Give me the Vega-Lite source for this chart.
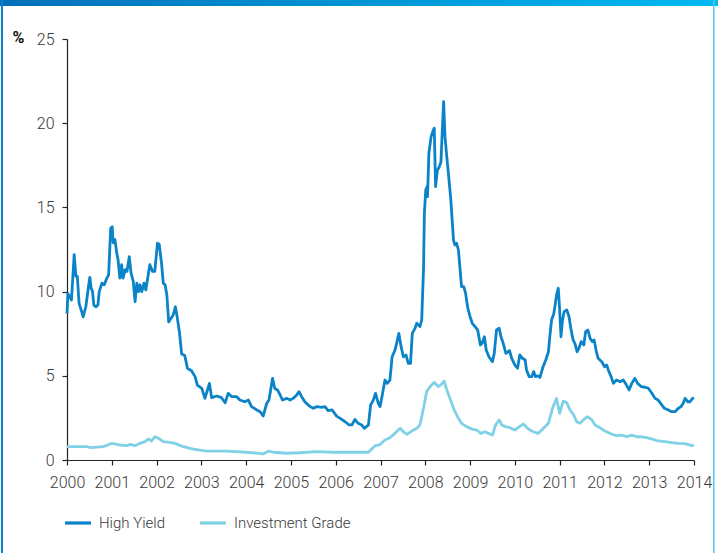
{
  "$schema": "https://vega.github.io/schema/vega-lite/v6.json",
  "width": 627,
  "height": 421,
  "autosize": "none",
  "padding": {"left": 67, "top": 39, "right": 24, "bottom": 93},
  "background": "white",
  "config": {
    "font": "Roboto",
    "view": {"stroke": null},
    "axis": {
      "grid": false,
      "domainColor": "#222222",
      "domainWidth": 1.2,
      "tickColor": "#222222",
      "tickWidth": 1.2,
      "tickSize": 5,
      "labelFont": "Roboto",
      "labelFontSize": 16,
      "labelFontWeight": 300,
      "labelColor": "#383838"
    },
    "legend": {
      "labelFont": "Roboto",
      "labelFontSize": 15,
      "labelFontWeight": 300,
      "labelColor": "#383838"
    }
  },
  "datasets": {
    "highYield": [
      {"year": 2000.00, "spread": 8.7}, {"year": 2000.02, "spread": 9.9}, {"year": 2000.06, "spread": 9.7},
      {"year": 2000.10, "spread": 9.5}, {"year": 2000.16, "spread": 12.2}, {"year": 2000.20, "spread": 10.9},
      {"year": 2000.23, "spread": 10.9}, {"year": 2000.27, "spread": 9.3}, {"year": 2000.33, "spread": 8.8},
      {"year": 2000.36, "spread": 8.5}, {"year": 2000.42, "spread": 9.1}, {"year": 2000.48, "spread": 10.3},
      {"year": 2000.51, "spread": 10.85}, {"year": 2000.54, "spread": 10.2}, {"year": 2000.57, "spread": 10.0},
      {"year": 2000.60, "spread": 9.2}, {"year": 2000.65, "spread": 9.1}, {"year": 2000.69, "spread": 9.2},
      {"year": 2000.72, "spread": 10.0}, {"year": 2000.78, "spread": 10.5}, {"year": 2000.83, "spread": 10.4},
      {"year": 2000.89, "spread": 10.8}, {"year": 2000.93, "spread": 11.0}, {"year": 2000.975, "spread": 13.76},
      {"year": 2001.01, "spread": 13.85}, {"year": 2001.03, "spread": 12.9}, {"year": 2001.07, "spread": 13.1},
      {"year": 2001.11, "spread": 12.3}, {"year": 2001.14, "spread": 11.9}, {"year": 2001.18, "spread": 10.8},
      {"year": 2001.22, "spread": 11.6}, {"year": 2001.25, "spread": 10.8}, {"year": 2001.30, "spread": 11.3},
      {"year": 2001.34, "spread": 11.2}, {"year": 2001.39, "spread": 12.07}, {"year": 2001.43, "spread": 11.1},
      {"year": 2001.48, "spread": 10.6}, {"year": 2001.52, "spread": 9.4}, {"year": 2001.56, "spread": 10.5},
      {"year": 2001.60, "spread": 10.0}, {"year": 2001.63, "spread": 10.4}, {"year": 2001.67, "spread": 10.0},
      {"year": 2001.72, "spread": 10.5}, {"year": 2001.76, "spread": 10.1}, {"year": 2001.82, "spread": 11.1},
      {"year": 2001.85, "spread": 11.6}, {"year": 2001.91, "spread": 11.2}, {"year": 2001.96, "spread": 11.2},
      {"year": 2002.02, "spread": 12.87}, {"year": 2002.06, "spread": 12.8}, {"year": 2002.11, "spread": 11.7},
      {"year": 2002.15, "spread": 10.5}, {"year": 2002.19, "spread": 10.4}, {"year": 2002.23, "spread": 9.8},
      {"year": 2002.27, "spread": 8.2}, {"year": 2002.32, "spread": 8.4}, {"year": 2002.37, "spread": 8.6},
      {"year": 2002.42, "spread": 9.1}, {"year": 2002.46, "spread": 8.5}, {"year": 2002.51, "spread": 7.6},
      {"year": 2002.56, "spread": 6.3}, {"year": 2002.63, "spread": 6.2}, {"year": 2002.69, "spread": 5.44},
      {"year": 2002.78, "spread": 5.3}, {"year": 2002.86, "spread": 4.95}, {"year": 2002.91, "spread": 4.45},
      {"year": 2003.01, "spread": 4.25}, {"year": 2003.08, "spread": 3.66}, {"year": 2003.18, "spread": 4.55},
      {"year": 2003.23, "spread": 3.7}, {"year": 2003.34, "spread": 3.8}, {"year": 2003.45, "spread": 3.7},
      {"year": 2003.53, "spread": 3.4}, {"year": 2003.60, "spread": 3.96}, {"year": 2003.68, "spread": 3.76},
      {"year": 2003.79, "spread": 3.76}, {"year": 2003.86, "spread": 3.56}, {"year": 2003.97, "spread": 3.46},
      {"year": 2004.05, "spread": 3.56}, {"year": 2004.12, "spread": 3.17}, {"year": 2004.24, "spread": 2.97},
      {"year": 2004.31, "spread": 2.87}, {"year": 2004.38, "spread": 2.61}, {"year": 2004.46, "spread": 3.37},
      {"year": 2004.51, "spread": 3.56}, {"year": 2004.59, "spread": 4.85}, {"year": 2004.64, "spread": 4.25},
      {"year": 2004.70, "spread": 4.16}, {"year": 2004.76, "spread": 3.86}, {"year": 2004.81, "spread": 3.56},
      {"year": 2004.91, "spread": 3.66}, {"year": 2004.98, "spread": 3.56}, {"year": 2005.05, "spread": 3.66},
      {"year": 2005.13, "spread": 3.86}, {"year": 2005.18, "spread": 4.06}, {"year": 2005.24, "spread": 3.76},
      {"year": 2005.31, "spread": 3.46}, {"year": 2005.43, "spread": 3.17}, {"year": 2005.50, "spread": 3.07},
      {"year": 2005.58, "spread": 3.17}, {"year": 2005.69, "spread": 3.12}, {"year": 2005.76, "spread": 3.17},
      {"year": 2005.83, "spread": 2.93}, {"year": 2005.92, "spread": 2.97}, {"year": 2006.02, "spread": 2.61},
      {"year": 2006.10, "spread": 2.47}, {"year": 2006.21, "spread": 2.27}, {"year": 2006.30, "spread": 2.08},
      {"year": 2006.36, "spread": 2.08}, {"year": 2006.43, "spread": 2.41}, {"year": 2006.50, "spread": 2.18},
      {"year": 2006.58, "spread": 2.08}, {"year": 2006.64, "spread": 1.88}, {"year": 2006.73, "spread": 2.08},
      {"year": 2006.78, "spread": 3.27}, {"year": 2006.84, "spread": 3.56}, {"year": 2006.89, "spread": 3.96},
      {"year": 2006.95, "spread": 3.37}, {"year": 2006.99, "spread": 3.17}, {"year": 2007.04, "spread": 3.86},
      {"year": 2007.10, "spread": 4.75}, {"year": 2007.15, "spread": 4.55}, {"year": 2007.21, "spread": 4.75},
      {"year": 2007.26, "spread": 6.13}, {"year": 2007.32, "spread": 6.5}, {"year": 2007.36, "spread": 6.93},
      {"year": 2007.41, "spread": 7.52}, {"year": 2007.46, "spread": 6.73}, {"year": 2007.51, "spread": 6.13},
      {"year": 2007.57, "spread": 6.23}, {"year": 2007.62, "spread": 5.74}, {"year": 2007.67, "spread": 5.74},
      {"year": 2007.71, "spread": 7.52}, {"year": 2007.77, "spread": 7.82}, {"year": 2007.81, "spread": 8.12},
      {"year": 2007.88, "spread": 7.92}, {"year": 2007.92, "spread": 8.31}, {"year": 2007.96, "spread": 11.28},
      {"year": 2007.98, "spread": 14.65}, {"year": 2008.01, "spread": 16.03}, {"year": 2008.04, "spread": 16.23},
      {"year": 2008.05, "spread": 15.64}, {"year": 2008.08, "spread": 18.21}, {"year": 2008.13, "spread": 19.2},
      {"year": 2008.18, "spread": 19.6}, {"year": 2008.20, "spread": 19.7}, {"year": 2008.23, "spread": 16.23},
      {"year": 2008.27, "spread": 17.2}, {"year": 2008.31, "spread": 17.4}, {"year": 2008.35, "spread": 17.7},
      {"year": 2008.38, "spread": 19.6}, {"year": 2008.41, "spread": 21.28}, {"year": 2008.44, "spread": 19.2},
      {"year": 2008.48, "spread": 18.01}, {"year": 2008.51, "spread": 17.2}, {"year": 2008.57, "spread": 15.44},
      {"year": 2008.63, "spread": 13.06}, {"year": 2008.66, "spread": 12.77}, {"year": 2008.70, "spread": 12.87},
      {"year": 2008.74, "spread": 12.47}, {"year": 2008.81, "spread": 10.3}, {"year": 2008.86, "spread": 10.3},
      {"year": 2008.90, "spread": 9.9}, {"year": 2008.95, "spread": 9.0}, {"year": 2009.00, "spread": 8.51},
      {"year": 2009.05, "spread": 8.12}, {"year": 2009.11, "spread": 7.92}, {"year": 2009.17, "spread": 7.72},
      {"year": 2009.23, "spread": 6.83}, {"year": 2009.27, "spread": 6.93}, {"year": 2009.32, "spread": 7.32},
      {"year": 2009.36, "spread": 6.53}, {"year": 2009.42, "spread": 6.13}, {"year": 2009.50, "spread": 5.84},
      {"year": 2009.54, "spread": 6.33}, {"year": 2009.59, "spread": 7.72}, {"year": 2009.65, "spread": 7.82},
      {"year": 2009.69, "spread": 7.32}, {"year": 2009.74, "spread": 6.93}, {"year": 2009.80, "spread": 6.33},
      {"year": 2009.88, "spread": 6.5}, {"year": 2009.93, "spread": 6.04}, {"year": 2010.00, "spread": 5.64},
      {"year": 2010.06, "spread": 5.45}, {"year": 2010.11, "spread": 6.24}, {"year": 2010.17, "spread": 6.04},
      {"year": 2010.23, "spread": 5.94}, {"year": 2010.26, "spread": 5.34}, {"year": 2010.32, "spread": 4.95},
      {"year": 2010.38, "spread": 4.95}, {"year": 2010.42, "spread": 5.25}, {"year": 2010.46, "spread": 4.95},
      {"year": 2010.51, "spread": 5.0}, {"year": 2010.56, "spread": 4.9}, {"year": 2010.63, "spread": 5.54},
      {"year": 2010.69, "spread": 5.94}, {"year": 2010.75, "spread": 6.43}, {"year": 2010.78, "spread": 7.32},
      {"year": 2010.82, "spread": 8.31}, {"year": 2010.87, "spread": 8.71}, {"year": 2010.90, "spread": 9.2},
      {"year": 2010.93, "spread": 9.8}, {"year": 2010.97, "spread": 10.2}, {"year": 2011.00, "spread": 8.91},
      {"year": 2011.03, "spread": 7.32}, {"year": 2011.06, "spread": 8.22}, {"year": 2011.10, "spread": 8.81},
      {"year": 2011.16, "spread": 8.91}, {"year": 2011.21, "spread": 8.51}, {"year": 2011.25, "spread": 7.82},
      {"year": 2011.30, "spread": 7.13}, {"year": 2011.34, "spread": 6.93}, {"year": 2011.39, "spread": 6.43},
      {"year": 2011.43, "spread": 6.63}, {"year": 2011.48, "spread": 7.03}, {"year": 2011.54, "spread": 6.83},
      {"year": 2011.58, "spread": 7.62}, {"year": 2011.63, "spread": 7.72}, {"year": 2011.68, "spread": 7.22},
      {"year": 2011.73, "spread": 7.03}, {"year": 2011.77, "spread": 7.13}, {"year": 2011.82, "spread": 6.43},
      {"year": 2011.86, "spread": 6.04}, {"year": 2011.94, "spread": 5.84}, {"year": 2012.00, "spread": 5.54},
      {"year": 2012.05, "spread": 5.64}, {"year": 2012.10, "spread": 5.25}, {"year": 2012.15, "spread": 4.95},
      {"year": 2012.20, "spread": 4.55}, {"year": 2012.27, "spread": 4.75}, {"year": 2012.35, "spread": 4.65},
      {"year": 2012.42, "spread": 4.75}, {"year": 2012.47, "spread": 4.55}, {"year": 2012.55, "spread": 4.16},
      {"year": 2012.61, "spread": 4.55}, {"year": 2012.68, "spread": 4.85}, {"year": 2012.74, "spread": 4.55},
      {"year": 2012.82, "spread": 4.36}, {"year": 2012.91, "spread": 4.32}, {"year": 2012.98, "spread": 4.26},
      {"year": 2013.06, "spread": 3.96}, {"year": 2013.13, "spread": 3.66}, {"year": 2013.20, "spread": 3.56},
      {"year": 2013.28, "spread": 3.27}, {"year": 2013.34, "spread": 3.07}, {"year": 2013.43, "spread": 2.97},
      {"year": 2013.50, "spread": 2.87}, {"year": 2013.58, "spread": 2.87}, {"year": 2013.65, "spread": 3.07},
      {"year": 2013.71, "spread": 3.17}, {"year": 2013.76, "spread": 3.37}, {"year": 2013.80, "spread": 3.66},
      {"year": 2013.86, "spread": 3.46}, {"year": 2013.91, "spread": 3.46}, {"year": 2013.97, "spread": 3.66},
      {"year": 2014.00, "spread": 3.7}
    ],
    "investmentGrade": [
      {"year": 2000.00, "spread": 0.79}, {"year": 2000.22, "spread": 0.79}, {"year": 2000.44, "spread": 0.79},
      {"year": 2000.52, "spread": 0.74}, {"year": 2000.81, "spread": 0.79}, {"year": 2001.00, "spread": 0.99},
      {"year": 2001.20, "spread": 0.89}, {"year": 2001.33, "spread": 0.85}, {"year": 2001.41, "spread": 0.93},
      {"year": 2001.52, "spread": 0.85}, {"year": 2001.63, "spread": 0.99}, {"year": 2001.74, "spread": 1.09},
      {"year": 2001.82, "spread": 1.25}, {"year": 2001.89, "spread": 1.13}, {"year": 2001.96, "spread": 1.38},
      {"year": 2002.04, "spread": 1.29}, {"year": 2002.15, "spread": 1.09}, {"year": 2002.30, "spread": 1.05},
      {"year": 2002.41, "spread": 0.99}, {"year": 2002.60, "spread": 0.79}, {"year": 2002.82, "spread": 0.65},
      {"year": 2003.12, "spread": 0.53}, {"year": 2003.57, "spread": 0.53}, {"year": 2004.01, "spread": 0.46},
      {"year": 2004.27, "spread": 0.40}, {"year": 2004.38, "spread": 0.36}, {"year": 2004.50, "spread": 0.53},
      {"year": 2004.61, "spread": 0.46}, {"year": 2004.90, "spread": 0.40}, {"year": 2005.20, "spread": 0.43},
      {"year": 2005.57, "spread": 0.50}, {"year": 2005.95, "spread": 0.46}, {"year": 2006.32, "spread": 0.46},
      {"year": 2006.73, "spread": 0.46}, {"year": 2006.88, "spread": 0.85}, {"year": 2006.98, "spread": 0.9},
      {"year": 2007.10, "spread": 1.19}, {"year": 2007.21, "spread": 1.32}, {"year": 2007.32, "spread": 1.58},
      {"year": 2007.44, "spread": 1.88}, {"year": 2007.51, "spread": 1.68}, {"year": 2007.59, "spread": 1.52},
      {"year": 2007.70, "spread": 1.72}, {"year": 2007.81, "spread": 1.88}, {"year": 2007.88, "spread": 2.08},
      {"year": 2007.96, "spread": 3.07}, {"year": 2008.03, "spread": 4.06}, {"year": 2008.11, "spread": 4.36},
      {"year": 2008.20, "spread": 4.61}, {"year": 2008.29, "spread": 4.36}, {"year": 2008.35, "spread": 4.46},
      {"year": 2008.42, "spread": 4.69}, {"year": 2008.48, "spread": 4.16}, {"year": 2008.55, "spread": 3.66},
      {"year": 2008.63, "spread": 3.07}, {"year": 2008.72, "spread": 2.57}, {"year": 2008.81, "spread": 2.18},
      {"year": 2008.92, "spread": 1.98}, {"year": 2009.04, "spread": 1.84}, {"year": 2009.15, "spread": 1.78},
      {"year": 2009.24, "spread": 1.58}, {"year": 2009.33, "spread": 1.68}, {"year": 2009.41, "spread": 1.58},
      {"year": 2009.50, "spread": 1.48}, {"year": 2009.57, "spread": 2.08}, {"year": 2009.65, "spread": 2.38},
      {"year": 2009.71, "spread": 2.08}, {"year": 2009.79, "spread": 1.98}, {"year": 2009.89, "spread": 1.92},
      {"year": 2010.00, "spread": 1.78}, {"year": 2010.11, "spread": 2.0}, {"year": 2010.19, "spread": 2.14},
      {"year": 2010.30, "spread": 1.84}, {"year": 2010.41, "spread": 1.68}, {"year": 2010.52, "spread": 1.58},
      {"year": 2010.60, "spread": 1.78}, {"year": 2010.75, "spread": 2.18}, {"year": 2010.84, "spread": 3.07},
      {"year": 2010.93, "spread": 3.66}, {"year": 2011.00, "spread": 2.77}, {"year": 2011.08, "spread": 3.5},
      {"year": 2011.16, "spread": 3.4}, {"year": 2011.23, "spread": 2.97}, {"year": 2011.31, "spread": 2.7},
      {"year": 2011.38, "spread": 2.27}, {"year": 2011.45, "spread": 2.18}, {"year": 2011.53, "spread": 2.38},
      {"year": 2011.62, "spread": 2.57}, {"year": 2011.72, "spread": 2.38}, {"year": 2011.79, "spread": 2.08},
      {"year": 2011.90, "spread": 1.92}, {"year": 2012.01, "spread": 1.72}, {"year": 2012.16, "spread": 1.54},
      {"year": 2012.27, "spread": 1.45}, {"year": 2012.38, "spread": 1.48}, {"year": 2012.50, "spread": 1.39},
      {"year": 2012.61, "spread": 1.48}, {"year": 2012.72, "spread": 1.38}, {"year": 2012.83, "spread": 1.38},
      {"year": 2012.94, "spread": 1.33}, {"year": 2013.05, "spread": 1.25}, {"year": 2013.20, "spread": 1.13},
      {"year": 2013.35, "spread": 1.09}, {"year": 2013.50, "spread": 1.03}, {"year": 2013.65, "spread": 0.99},
      {"year": 2013.80, "spread": 0.97}, {"year": 2013.95, "spread": 0.85}, {"year": 2014.00, "spread": 0.88}
    ]
  },
  "layer": [
    {
      "data": {"name": "investmentGrade"},
      "mark": {"type": "line", "strokeWidth": 2.8, "strokeJoin": "round"},
      "encoding": {
        "x": {
          "field": "year",
          "type": "quantitative",
          "scale": {"domain": [2000, 2014], "nice": false, "zero": false},
          "axis": {
            "title": null,
            "values": [2000, 2001, 2002, 2003, 2004, 2005, 2006, 2007, 2008, 2009, 2010, 2011, 2012, 2013, 2014],
            "format": "d",
            "labelPadding": 9,
            "labelFlush": false,
            "labelOverlap": false
          }
        },
        "y": {
          "field": "spread",
          "type": "quantitative",
          "scale": {"domain": [0, 25], "nice": false},
          "axis": {
            "title": "%",
            "titleAngle": 0,
            "titleAlign": "left",
            "titleBaseline": "middle",
            "titleX": -55,
            "titleY": -2,
            "titleFont": "Roboto",
            "titleFontSize": 16,
            "titleFontWeight": "bold",
            "titleColor": "#111111",
            "values": [0, 5, 10, 15, 20, 25],
            "labelPadding": 8
          }
        },
        "color": {
          "datum": "Investment Grade",
          "scale": {"domain": ["High Yield", "Investment Grade"], "range": ["#0a83c9", "#7fd1e6"]},
          "legend": {
            "title": null,
            "orient": "none",
            "legendX": -4,
            "legendY": 469,
            "direction": "horizontal",
            "symbolType": "stroke",
            "symbolSize": 676,
            "symbolStrokeWidth": 3.2,
            "labelOffset": 6,
            "columnPadding": 27
          }
        }
      }
    },
    {
      "data": {"name": "highYield"},
      "mark": {"type": "line", "strokeWidth": 2.8, "strokeJoin": "round"},
      "encoding": {
        "x": {"field": "year", "type": "quantitative"},
        "y": {"field": "spread", "type": "quantitative"},
        "color": {"datum": "High Yield"}
      }
    },
    {
      "data": {"values": [{}]},
      "mark": {
        "type": "rect",
        "color": {
          "gradient": "linear",
          "x1": 0, "y1": 0, "x2": 1, "y2": 0,
          "stops": [{"offset": 0, "color": "#006fba"}, {"offset": 1, "color": "#00baf0"}]
        }
      },
      "encoding": {
        "x": {"datum": 1998.45},
        "x2": {"datum": 2014.6},
        "y": {"datum": 27.4},
        "y2": {"datum": 26.96}
      }
    },
    {
      "data": {"values": [{}]},
      "mark": {"type": "rect", "color": "#0b80c8"},
      "encoding": {
        "x": {"datum": 1998.526},
        "x2": {"datum": 1998.571},
        "y": {"datum": 27.4},
        "y2": {"datum": -6}
      }
    },
    {
      "data": {"values": [{}]},
      "mark": {"type": "rect", "color": "#55c6ee"},
      "encoding": {
        "x": {"datum": 2014.424},
        "x2": {"datum": 2014.458},
        "y": {"datum": 27.4},
        "y2": {"datum": -6}
      }
    }
  ]
}
